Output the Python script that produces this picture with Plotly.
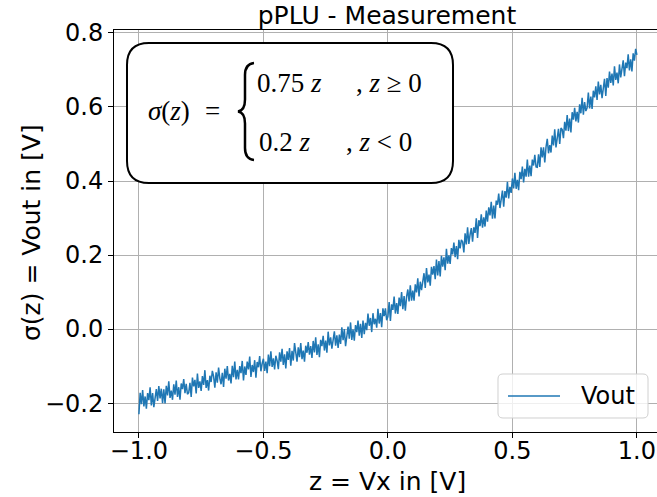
import numpy as np
import plotly.graph_objects as go

# ---------------- data ----------------
z_start, z_stop, n_samples = -1.0, 1.0, 401
vout = [
    -0.230, -0.172, -0.203, -0.165, -0.209, -0.182, -0.215, -0.173, -0.192, -0.157,
    -0.206, -0.173, -0.211, -0.178, -0.162, -0.194, -0.154, -0.187, -0.161, -0.200,
    -0.163, -0.201, -0.153, -0.179, -0.141, -0.186, -0.166, -0.191, -0.149, -0.177,
    -0.139, -0.183, -0.157, -0.191, -0.147, -0.162, -0.135, -0.173, -0.148, -0.176,
    -0.172, -0.145, -0.183, -0.131, -0.155, -0.137, -0.174, -0.120, -0.159, -0.141,
    -0.167, -0.127, -0.151, -0.111, -0.159, -0.138, -0.166, -0.126, -0.143, -0.113,
    -0.128, -0.158, -0.117, -0.145, -0.104, -0.133, -0.149, -0.118, -0.156, -0.107,
    -0.134, -0.100, -0.139, -0.121, -0.147, -0.099, -0.130, -0.088, -0.136, -0.110,
    -0.136, -0.100, -0.119, -0.086, -0.139, -0.101, -0.124, -0.088, -0.109, -0.074,
    -0.129, -0.097, -0.116, -0.084, -0.131, -0.089, -0.103, -0.073, -0.114, -0.093,
    -0.080, -0.113, -0.088, -0.119, -0.069, -0.100, -0.060, -0.102, -0.079, -0.109,
    -0.072, -0.085, -0.108, -0.063, -0.088, -0.053, -0.097, -0.068, -0.106, -0.060,
    -0.083, -0.051, -0.099, -0.059, -0.085, -0.038, -0.072, -0.088, -0.049, -0.076,
    -0.038, -0.081, -0.058, -0.088, -0.045, -0.064, -0.035, -0.069, -0.046, -0.078,
    -0.032, -0.063, -0.022, -0.070, -0.041, -0.076, -0.029, -0.046, -0.018, -0.058,
    -0.031, -0.064, -0.007, -0.044, -0.022, -0.053, -0.030, -0.006, -0.045, -0.017,
    -0.051, -0.015, -0.040, 0.005, -0.030, 0.000, -0.046, -0.012, 0.007, -0.026,
    0.018, -0.029, -0.001, -0.031, 0.011, -0.008, 0.023, -0.018, 0.014, -0.024,
    0.023, -0.014, 0.017, -0.003, 0.042, 0.009, 0.030, -0.008, 0.043, 0.013,
    0.028, 0.004, 0.055, 0.015, 0.043, 0.005, 0.056, 0.035, 0.056, 0.024,
    0.034, 0.073, 0.022, 0.067, 0.052, 0.088, 0.042, 0.070, 0.041, 0.085,
    0.062, 0.100, 0.054, 0.089, 0.050, 0.087, 0.107, 0.075, 0.118, 0.077,
    0.104, 0.077, 0.121, 0.099, 0.137, 0.088, 0.128, 0.105, 0.126, 0.151,
    0.111, 0.165, 0.126, 0.147, 0.117, 0.168, 0.147, 0.170, 0.135, 0.188,
    0.145, 0.184, 0.142, 0.198, 0.169, 0.194, 0.159, 0.217, 0.177, 0.199,
    0.176, 0.219, 0.202, 0.234, 0.194, 0.224, 0.189, 0.241, 0.218, 0.241,
    0.236, 0.207, 0.259, 0.229, 0.275, 0.230, 0.255, 0.273, 0.236, 0.275,
    0.260, 0.299, 0.246, 0.294, 0.278, 0.310, 0.274, 0.302, 0.277, 0.320,
    0.290, 0.329, 0.307, 0.344, 0.298, 0.334, 0.299, 0.347, 0.336, 0.366,
    0.327, 0.353, 0.374, 0.331, 0.373, 0.355, 0.398, 0.353, 0.384, 0.368,
    0.407, 0.380, 0.422, 0.379, 0.403, 0.375, 0.425, 0.405, 0.439, 0.396,
    0.433, 0.412, 0.458, 0.412, 0.442, 0.413, 0.458, 0.442, 0.471, 0.438,
    0.437, 0.472, 0.438, 0.491, 0.464, 0.491, 0.450, 0.492, 0.514, 0.475,
    0.497, 0.477, 0.523, 0.496, 0.540, 0.491, 0.525, 0.541, 0.500, 0.543,
    0.539, 0.516, 0.560, 0.536, 0.578, 0.535, 0.569, 0.531, 0.586, 0.566,
    0.598, 0.561, 0.587, 0.558, 0.607, 0.583, 0.625, 0.579, 0.613, 0.589,
    0.598, 0.639, 0.596, 0.628, 0.595, 0.644, 0.626, 0.656, 0.619, 0.669,
    0.634, 0.660, 0.624, 0.657, 0.676, 0.630, 0.678, 0.652, 0.696, 0.665,
    0.690, 0.658, 0.710, 0.673, 0.693, 0.664, 0.715, 0.680, 0.702, 0.726,
    0.683, 0.720, 0.705, 0.742, 0.699, 0.729, 0.696, 0.745, 0.725, 0.757,
    0.741,
]
z = np.linspace(z_start, z_stop, n_samples)

x_ticks = [-1.0, -0.5, 0.0, 0.5, 1.0]
y_ticks = [-0.2, 0.0, 0.2, 0.4, 0.6, 0.8]

title_text = "pPLU - Measurement"
x_label = "z = Vx in [V]"
y_label = "σ(z) = Vout in [V]"
series_name = "Vout"
line_color = "#1f77b4"

# ---------------- layout helpers ----------------
W, H = 657, 497
ML, MR, MT, MB = 114, 0, 30, 65
PW, PH = W - ML - MR, H - MT - MB


def px(xp):
    return (xp - ML) / PW


def py(yp):
    return (H - MB - yp) / PH


def path_from_px(cmds):
    out = []
    for c in cmds:
        if isinstance(c, str):
            out.append(c)
        else:
            out.append(f"{px(c[0]):.5f},{py(c[1]):.5f}")
    return " ".join(out)


def rounded_rect(x0, y0, x1, y1, r):
    return path_from_px([
        "M", (x0 + r, y0), "L", (x1 - r, y0), "Q", (x1, y0), (x1, y0 + r),
        "L", (x1, y1 - r), "Q", (x1, y1), (x1 - r, y1),
        "L", (x0 + r, y1), "Q", (x0, y1), (x0, y1 - r),
        "L", (x0, y0 + r), "Q", (x0, y0), (x0 + r, y0), "Z",
    ])


fig = go.Figure()
fig.add_trace(go.Scatter(
    x=z, y=vout, mode="lines", name=series_name, showlegend=False,
    line=dict(color=line_color, width=1.5),
))

font_sans = "DejaVu Sans"
font_serif = "Liberation Serif"

fig.update_layout(
    width=W, height=H,
    margin=dict(l=ML, r=MR, t=MT, b=MB),
    paper_bgcolor="white", plot_bgcolor="white",
    font=dict(family=font_sans, size=24, color="black"),
    title=dict(
        text=title_text, x=px(387), xref="paper", xanchor="center",
        y=1 - 15 / H, yref="container", yanchor="middle",
        font=dict(family=font_sans, size=25, color="black"),
    ),
)

fig.update_xaxes(
    range=[-1.1, (W - ML) / 249.0 - 1.1],
    tickvals=x_ticks, tickformat=".1f",
    showgrid=True, gridcolor="#b0b0b0", gridwidth=1,
    zeroline=False,
    showline=True, linecolor="black", linewidth=1, mirror=True,
    ticks="outside", ticklen=5, tickcolor="black",
    ticklabelstandoff=-8,
    tickfont=dict(family=font_sans, size=24, color="black"),
)
fig.update_yaxes(
    range=[-0.278, 0.808],
    tickvals=y_ticks, tickformat=".1f",
    showgrid=True, gridcolor="#b0b0b0", gridwidth=1,
    zeroline=False,
    showline=True, linecolor="black", linewidth=1,
    ticks="outside", ticklen=5, tickcolor="black",
    tickfont=dict(family=font_sans, size=24, color="black"),
)

# axis titles
fig.add_annotation(text=x_label, xref="paper", yref="paper", x=px(387), y=py(481),
                   xanchor="center", yanchor="middle", showarrow=False,
                   font=dict(family=font_sans, size=25, color="black"))
fig.add_annotation(text=y_label, xref="paper", yref="paper", x=px(31), y=py(233),
                   xanchor="center", yanchor="middle", showarrow=False, textangle=-90,
                   font=dict(family=font_sans, size=25, color="black"))

# legend (matplotlib style: rounded, translucent)
fig.add_shape(type="path", path=rounded_rect(498, 374, 648, 418, 5), xref="paper", yref="paper",
              line=dict(color="#d0d0d0", width=1), fillcolor="rgba(255,255,255,0.8)", layer="above")
fig.add_shape(type="line", xref="paper", yref="paper",
              x0=px(508), x1=px(560), y0=py(396), y1=py(396),
              line=dict(color=line_color, width=1.5), layer="above")
fig.add_annotation(text=series_name, xref="paper", yref="paper", x=px(579), y=py(396),
                   xanchor="left", yanchor="middle", showarrow=False,
                   font=dict(family=font_sans, size=24, color="black"))

# rounded formula box
fig.add_shape(type="path", path=rounded_rect(127, 43, 453, 183, 22), xref="paper", yref="paper",
              line=dict(color="black", width=2), fillcolor="white", layer="above")

# curly brace
bx0, bx1, bxm = 238, 254, 245
by0, by1 = 63, 160
bym = (by0 + by1) / 2
brace = path_from_px([
    "M", (bx1, by0), "Q", (bxm, by0 + 1), (bxm, by0 + 12),
    "L", (bxm, bym - 12), "Q", (bxm, bym - 1), (bx0, bym),
    "Q", (bxm, bym + 1), (bxm, bym + 12),
    "L", (bxm, by1 - 12), "Q", (bxm, by1 - 1), (bx1, by1),
])
fig.add_shape(type="path", path=brace, xref="paper", yref="paper",
              line=dict(color="black", width=2.5), layer="above")

mfont = dict(family=font_serif, size=27, color="black")


def math_text(txt, xp, yp, anchor="left"):
    fig.add_annotation(text=txt, xref="paper", yref="paper", x=px(xp), y=py(yp),
                       xanchor=anchor, yanchor="middle", showarrow=False, font=mfont)


math_text("<i>σ</i>(<i>z</i>)", 146, 111)
math_text("=", 203, 111)
math_text("0.75 <i>z</i>", 255, 83)
math_text(", <i>z</i> ≥ 0", 354, 83)
math_text("0.2 <i>z</i>", 257, 142)
math_text(", <i>z</i> &lt; 0", 344, 142)

fig.write_html("out.html")
